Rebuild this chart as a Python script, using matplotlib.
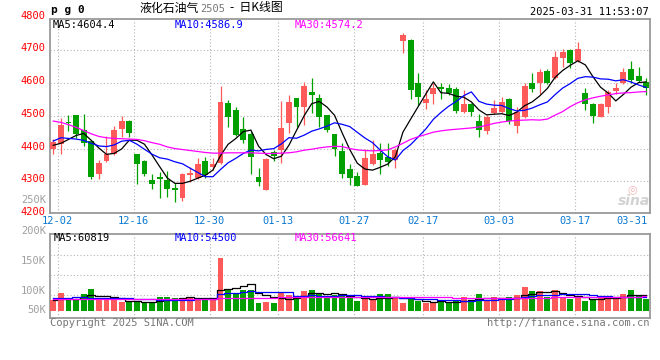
import matplotlib
matplotlib.use("Agg")
import matplotlib.pyplot as plt
import matplotlib.transforms as mtransforms
import numpy as np

# daily candles, 2024-11-29 .. 2025-03-28
opens = [4400, 4415, 4482, 4502, 4456, 4423, 4323, 4363, 4383, 4459,
         4485, 4383, 4363, 4303, 4314, 4303, 4280, 4250, 4319, 4309,
         4363, 4344, 4355, 4538, 4517, 4461, 4444, 4314, 4273, 4390,
         4395, 4479, 4553, 4526, 4573, 4553, 4502, 4444, 4393, 4339,
         4316, 4290, 4352, 4385, 4375, 4365, 4729, 4733, 4601, 4540,
         4566, 4587, 4584, 4581, 4512, 4536, 4485, 4454, 4509, 4512,
         4551, 4469, 4495, 4599, 4599, 4638, 4617, 4678, 4701, 4668,
         4571, 4536, 4497, 4528, 4575, 4599, 4642, 4621, 4604]
highs = [4430, 4492, 4502, 4503, 4507, 4425, 4366, 4438, 4468, 4499,
         4486, 4384, 4364, 4322, 4329, 4331, 4295, 4325, 4344, 4372,
         4375, 4370, 4591, 4548, 4526, 4497, 4451, 4341, 4370, 4397,
         4546, 4563, 4555, 4604, 4617, 4568, 4504, 4446, 4416, 4354,
         4329, 4400, 4426, 4416, 4416, 4403, 4752, 4735, 4630, 4579,
         4599, 4599, 4597, 4587, 4579, 4540, 4507, 4502, 4548, 4558,
         4553, 4526, 4599, 4630, 4642, 4642, 4699, 4704, 4703, 4726,
         4584, 4538, 4538, 4579, 4599, 4647, 4667, 4648, 4617]
lows = [4383, 4383, 4455, 4433, 4407, 4308, 4308, 4360, 4380, 4436,
        4434, 4291, 4316, 4275, 4249, 4252, 4237, 4240, 4298, 4306,
        4309, 4334, 4353, 4466, 4438, 4416, 4322, 4285, 4272, 4361,
        4356, 4448, 4466, 4472, 4509, 4466, 4451, 4377, 4309, 4288,
        4285, 4289, 4350, 4322, 4346, 4342, 4693, 4551, 4533, 4520,
        4536, 4551, 4565, 4510, 4510, 4499, 4436, 4446, 4507, 4510,
        4475, 4448, 4493, 4572, 4566, 4596, 4612, 4648, 4645, 4665,
        4517, 4479, 4496, 4509, 4566, 4596, 4599, 4604, 4563]
closes = [4420, 4472, 4479, 4444, 4416, 4314, 4355, 4383, 4458, 4484,
          4448, 4354, 4322, 4292, 4307, 4275, 4272, 4322, 4324, 4354,
          4319, 4352, 4543, 4497, 4441, 4426, 4375, 4298, 4368, 4378,
          4463, 4543, 4526, 4591, 4563, 4497, 4458, 4400, 4322, 4309,
          4286, 4370, 4383, 4365, 4359, 4397, 4747, 4579, 4558, 4551,
          4584, 4581, 4570, 4514, 4536, 4512, 4458, 4495, 4524, 4543,
          4485, 4512, 4591, 4582, 4635, 4599, 4680, 4696, 4662, 4704,
          4536, 4499, 4536, 4573, 4584, 4635, 4609, 4607, 4584]

ma5 = [4410, 4416, 4428, 4440, 4446.2, 4425, 4401.6, 4382.4, 4385.2, 4398.8,
       4425.6, 4425.4, 4413.2, 4380, 4344.6, 4310, 4293.6, 4293.6, 4300, 4309.4,
       4318.2, 4334.2, 4378.4, 4413, 4430.4, 4451.8, 4456.4, 4407.4, 4381.6, 4369,
       4376.4, 4410, 4455.6, 4500.2, 4537.2, 4544, 4527, 4501.8, 4448, 4397.2,
       4355, 4337.4, 4334, 4342.6, 4352.6, 4374.8, 4450.2, 4489.4, 4528, 4566.4,
       4603.8, 4570.6, 4568.8, 4560, 4557, 4542.6, 4518, 4503, 4505, 4506.4,
       4501, 4511.8, 4531, 4542.6, 4561, 4583.8, 4617.4, 4638.4, 4654.4, 4668.2,
       4655.6, 4619.4, 4587.4, 4569.6, 4545.6, 4565.4, 4587.4, 4601.6, 4603.8]
ma10 = [4423, 4433, 4431, 4429, 4425, 4416, 4408, 4406, 4411, 4422.5,
        4425.3, 4413.5, 4397.8, 4382.6, 4371.7, 4367.8, 4359.5, 4353.4, 4340, 4327,
        4314.1, 4313.9, 4336, 4356.5, 4369.9, 4385, 4395.3, 4392.9, 4397.3, 4399.7,
        4414.1, 4433.2, 4431.5, 4440.9, 4453.1, 4460.2, 4468.5, 4478.7, 4474.1, 4467.2,
        4449.5, 4432.2, 4417.9, 4395.3, 4374.9, 4364.9, 4393.8, 4411.7, 4435.3, 4459.5,
        4489.3, 4510.4, 4529.1, 4544, 4561.7, 4573.2, 4544.3, 4535.9, 4532.5, 4531.7,
        4521.8, 4514.9, 4517, 4523.8, 4533.7, 4542.4, 4564.6, 4584.7, 4598.5, 4614.6,
        4619.7, 4618.4, 4612.9, 4612, 4606.9, 4610.5, 4603.4, 4594.5, 4586.7]
ma30 = [4484, 4480, 4473, 4465, 4455, 4445, 4437, 4433, 4431, 4430,
        4429, 4428, 4424, 4418, 4413, 4405, 4400, 4397, 4394, 4391,
        4388, 4386, 4386, 4387, 4387, 4387, 4387, 4386, 4385, 4385,
        4386, 4387, 4390, 4395, 4398, 4402, 4405, 4407, 4406, 4400,
        4396, 4394, 4393, 4394, 4396, 4405, 4416, 4428, 4436, 4443,
        4450, 4454, 4457, 4459, 4461, 4463, 4466, 4471, 4477, 4481,
        4484, 4486, 4487, 4488, 4487, 4490, 4502, 4513, 4528, 4540,
        4549, 4555, 4560, 4564, 4568, 4570, 4571, 4573, 4574.2]

# volume, thousands
vol_k = [41.2, 68.1, 44.3, 44.3, 64.7, 83.5, 45.0, 44.3, 40.4, 35.4,
         33.9, 35.4, 33.9, 34.7, 55.8, 53.9, 50.1, 50.1, 50.1, 50.1,
         44.3, 50.1, 204.8, 80.9, 70.5, 82.0, 82.0, 31.6, 35.4, 31.6,
         67.4, 61.6, 52.0, 77.0, 80.9, 65.5, 57.8, 59.7, 57.0, 48.1,
         38.5, 44.3, 44.3, 65.5, 65.5, 52.0, 28.9, 47.4, 39.3, 30.8,
         30.8, 37.7, 33.9, 41.6, 54.7, 41.6, 64.7, 38.5, 53.1, 46.2,
         52.0, 60.8, 93.2, 77.0, 77.0, 55.1, 80.9, 55.1, 45.0, 55.1,
         39.7, 45.0, 55.1, 57.8, 55.1, 65.5, 80.9, 57.8, 45.0]
vma5 = [44.0, 44.5, 45.0, 47.0, 52.5, 61.0, 56.4, 56.4, 55.6, 49.7,
        39.8, 37.9, 35.8, 34.7, 38.7, 42.7, 45.7, 48.9, 52.0, 50.8,
        48.9, 48.9, 79.8, 86.0, 90.1, 97.6, 104.0, 69.4, 60.3, 52.5,
        49.6, 45.5, 49.6, 57.9, 67.8, 67.4, 66.6, 68.1, 64.1, 57.6,
        52.2, 49.5, 46.4, 48.1, 51.6, 54.3, 51.2, 51.8, 46.6, 39.7,
        35.4, 37.2, 34.5, 35.0, 39.7, 41.9, 47.3, 48.2, 50.5, 48.8,
        50.9, 50.1, 61.1, 65.8, 72.0, 72.6, 76.6, 69.0, 62.6, 58.2,
        55.1, 48.0, 48.0, 50.5, 50.5, 55.7, 62.8, 63.4, 60.8]
vma10 = [51.0, 51.5, 51.8, 52.0, 52.0, 51.8, 51.5, 51.5, 51.3, 51.1,
         50.4, 47.1, 46.1, 45.1, 44.2, 41.3, 41.8, 42.4, 43.3, 44.8,
         45.8, 47.3, 64.4, 69.0, 70.5, 73.3, 76.5, 74.6, 73.2, 71.3,
         73.6, 74.8, 59.5, 59.1, 60.1, 58.5, 56.1, 58.9, 61.0, 62.7,
         59.8, 58.1, 57.3, 56.1, 54.6, 53.2, 50.4, 49.1, 47.4, 45.6,
         44.9, 44.2, 43.2, 40.8, 39.7, 38.7, 42.2, 41.3, 42.7, 44.3,
         46.4, 48.7, 54.6, 58.2, 60.4, 61.8, 63.4, 65.0, 64.2, 65.1,
         63.9, 62.3, 58.5, 56.6, 54.4, 55.4, 55.4, 55.7, 54.5]
vma30 = [47.4, 47.4, 47.4, 47.4, 47.4, 47.4, 47.4, 47.4, 47.4, 47.4,
         47.4, 47.4, 47.4, 47.4, 47.4, 47.4, 47.4, 47.4, 47.4, 47.4,
         47.4, 47.4, 50.0, 50.0, 50.0, 50.0, 50.0, 50.0, 50.0, 50.0,
         55.0, 55.0, 55.0, 55.0, 55.0, 55.0, 55.0, 55.0, 55.0, 55.0,
         55.0, 55.0, 55.0, 55.0, 55.0, 54.0, 54.0, 54.0, 54.0, 54.0,
         54.0, 54.0, 54.0, 51.0, 51.0, 51.0, 51.0, 51.0, 51.0, 51.0,
         51.0, 51.0, 51.0, 51.0, 51.0, 51.0, 54.0, 54.0, 54.0, 54.0,
         54.0, 54.0, 54.0, 54.0, 54.0, 54.0, 54.0, 54.0, 56.6]

date_labels = ["12-02", "12-16", "12-30", "01-13", "01-27", "02-17", "03-03", "03-17", "03-31"]
date_index = [1, 11, 21, 30, 40, 49, 59, 69, 79]
price_ticks = [4800, 4700, 4600, 4500, 4400, 4300, 4200]

RED = "#ff5a5a"
GREEN = "#00a000"
GRID = "#b4b4b4"
BORDER = "#9a9a9a"
BLUE_TXT = "#0a78d0"
MONO = "DejaVu Sans Mono"

W, H = 660, 360
fig = plt.figure(figsize=(W / 100, H / 100), dpi=100)
fig.patch.set_facecolor("white")


def ftext(x, y, s, **kw):
    kw.setdefault("va", "center")
    fig.text(x / W, 1 - y / H, s, **kw)


ax = fig.add_axes([50 / W, 1 - 213 / H, 600 / W, 194 / H])
axv = fig.add_axes([50 / W, 1 - 318 / H, 600 / W, 84 / H])

x = np.arange(len(closes))
o = np.array(opens, float)
c = np.array(closes, float)
up = c >= o
cols = np.where(up, RED, GREEN)
grid_x = np.array(date_index) - 0.42

for a in (ax, axv):
    a.set_xlim(-0.43, 78.5)
    a.set_xticks([])
    a.set_yticks([])
    for s in a.spines.values():
        s.set_color(BORDER)
        s.set_linewidth(1.3)
    for gx in grid_x:
        a.axvline(gx, color=GRID, lw=0.8, ls=(0, (1, 2)), zorder=1)

# price panel
ax.set_ylim(4203, 4796)
for v in [4700, 4600, 4500, 4400, 4300]:
    ax.axhline(v, color=GRID, lw=0.8, ls=(0, (1, 2)), zorder=1)
ax.vlines(x, lows, highs, colors=cols, lw=0.9, zorder=2)
body = np.maximum(np.abs(c - o), 3)
ax.bar(x, body, bottom=np.minimum(o, c), width=0.78, color=cols, lw=0, zorder=3)
ax.plot(x, ma5, color="black", lw=0.9, zorder=4)
ax.plot(x, ma10, color="#0000ff", lw=0.9, zorder=4)
ax.plot(x, ma30, color="#ff00ff", lw=0.9, zorder=4)

trans = mtransforms.blended_transform_factory(ax.transAxes, ax.transData)
for v in price_ticks:
    ax.text(-0.007, v + 6, str(v), transform=trans, ha="right", va="center",
            color="#ff0000", fontsize=7.5, family=MONO, clip_on=False)

# volume panel
axv.set_ylim(-27, 296.5)
for v in [61.6, 138.6, 215.6]:
    axv.axhline(v, color=GRID, lw=0.8, ls=(0, (1, 2)), zorder=1)
axv.bar(x, vol_k, width=0.78, color=cols, lw=0, zorder=3)
axv.plot(x, vma5, color="black", lw=0.9, drawstyle="steps-mid", zorder=4)
axv.plot(x, vma10, color="#0000ff", lw=0.9, drawstyle="steps-mid", zorder=4)
axv.plot(x, vma30, color="#ff00ff", lw=0.9, drawstyle="steps-mid", zorder=4)

for lab, yy in [("250K", 200), ("200K", 231), ("150K", 261), ("100K", 291), ("50K", 310)]:
    ftext(46, yy, lab, ha="right", color="#a0a0a0", fontsize=7.5, family=MONO)

# date labels
for lab, gx in zip(date_labels, grid_x):
    px = 53.3 + 7.6 * gx
    if gx > 78:
        ftext(648, 221, lab, ha="right", color=BLUE_TXT, fontsize=7.5, family=MONO)
    else:
        ftext(px, 221, lab, ha="center", color=BLUE_TXT, fontsize=7.5, family=MONO)

# header
ftext(51, 10, "p g 0", ha="left", fontsize=8, family=MONO, fontweight="bold")
ftext(140, 8, "液化石油气", ha="left", fontsize=8.6, family=["Noto Sans CJK SC", "DejaVu Sans"])
ftext(200, 9, "2505", ha="left", fontsize=7.5, family=MONO, color="#777777")
ftext(230, 8, "-  日K线图", ha="left", fontsize=8.6, family=["Noto Sans CJK SC", "DejaVu Sans"])
ftext(649, 12, "2025-03-31 11:53:07", ha="right", fontsize=7.5, family=MONO)

ftext(53, 25, "MA5:4604.4", ha="left", fontsize=7.5, family=MONO, color="black")
ftext(175, 25, "MA10:4586.9", ha="left", fontsize=7.5, family=MONO, color="#0000ff")
ftext(295, 25, "MA30:4574.2", ha="left", fontsize=7.5, family=MONO, color="#ff00ff")
ftext(54, 238, "MA5:60819", ha="left", fontsize=7.5, family=MONO, color="black")
ftext(175, 238, "MA10:54500", ha="left", fontsize=7.5, family=MONO, color="#0000ff")
ftext(295, 238, "MA30:56641", ha="left", fontsize=7.5, family=MONO, color="#ff00ff")

ftext(50, 323, "Copyright 2025 SINA.COM", ha="left", fontsize=7.5, family=MONO, color="#777777")
ftext(649, 323, "http://finance.sina.com.cn", ha="right", fontsize=7.5, family=MONO, color="#777777")

# sina watermark
ftext(632, 189, "◎", ha="center", fontsize=8, color="#f3b4b4")
ftext(634, 201, "sina", ha="center", fontsize=10, fontweight="bold", style="italic", color="#d2d2d2")

fig.savefig("out.png", dpi=100)
